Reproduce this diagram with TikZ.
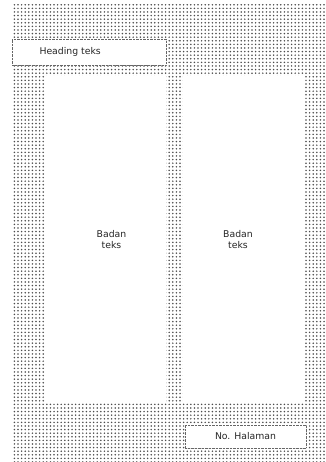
\documentclass[tikz,border=0pt]{standalone}
\usepackage{fontspec}
\setsansfont{DejaVu Sans}
\usetikzlibrary{patterns.meta}
\begin{document}
\begin{tikzpicture}[x=1pt,y=-1pt,
  bg/.style={pattern={Dots[distance=3.6pt,radius=0.85pt]},pattern color=black!70},
  panel/.style={fill=white,draw=none,inner sep=0pt,outer sep=0pt},
  lbl/.style={font=\sffamily\fontsize{9.3}{11}\selectfont,align=center,text=black!85}]
\useasboundingbox (0,0) rectangle (325,462);
\fill[white] (0,0) rectangle (325,462);
\fill[bg] (12,5) rectangle (325,462);
% heading box
\node[panel,draw=black!60,densely dotted,minimum width=154pt,minimum height=26pt,anchor=north west] (head) at (12,39) {};
\node[lbl,anchor=west] (headtxt) at (36,52) {Heading teks};
% columns
\node[panel,minimum width=121pt,minimum height=327pt,anchor=north west] (colL) at (45,76) {};
\node[panel,minimum width=122pt,minimum height=327pt,anchor=north west] (colR) at (183,76) {};
\node[lbl] (txtL) at ([xshift=6pt]colL.center) {Badan\\teks};
\node[lbl] (txtR) at ([xshift=-6pt]colR.center) {Badan\\teks};
% page number box
\node[panel,draw=black!60,densely dotted,minimum width=121pt,minimum height=23pt,anchor=north west] (pgno) at (185,425) {};
\node[lbl] (pgtxt) at (pgno.center) {No. Halaman};
\end{tikzpicture}
\end{document}
